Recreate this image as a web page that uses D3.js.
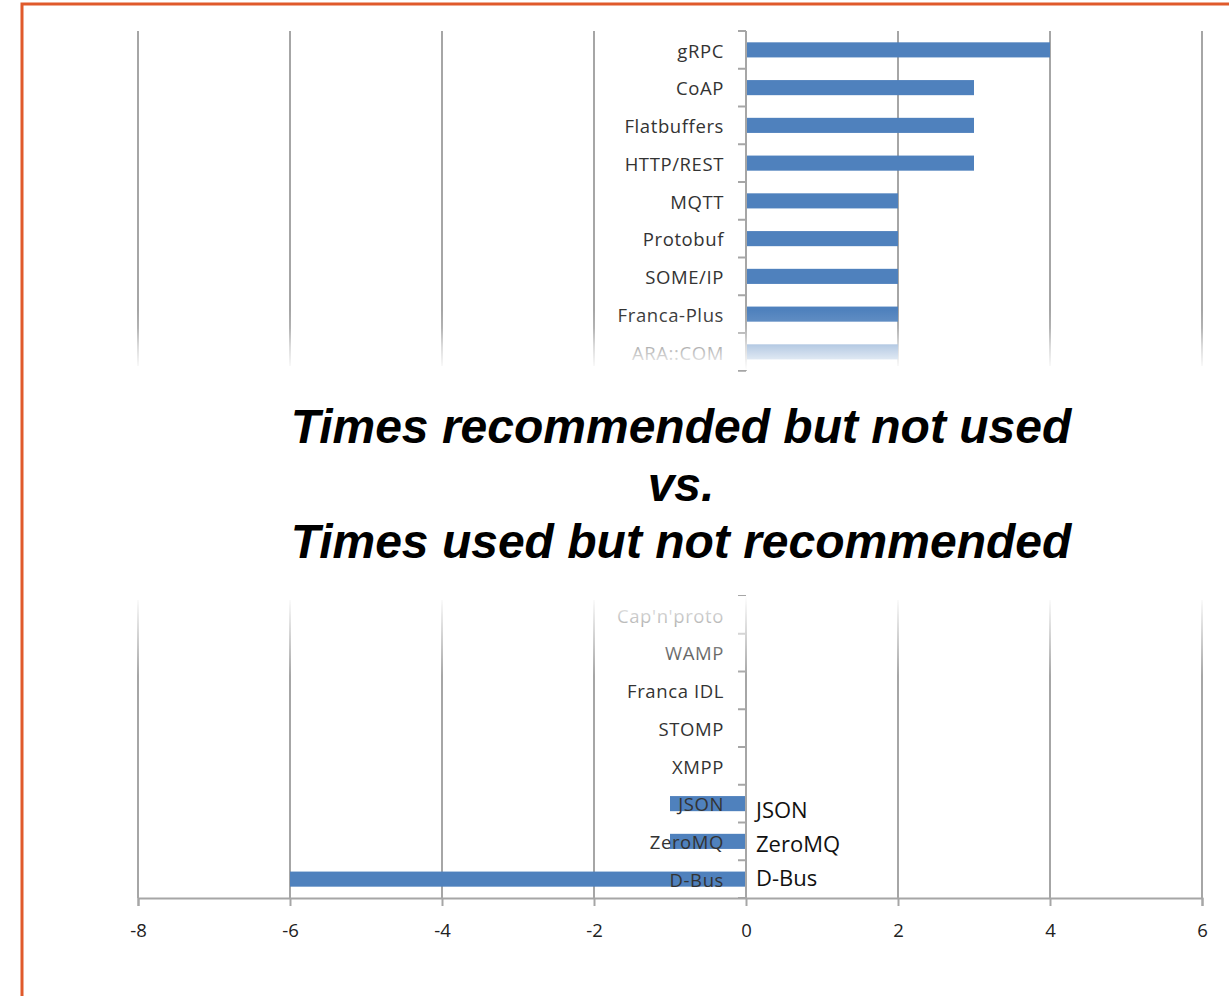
<!DOCTYPE html>
<meta charset="utf-8">
<style>
body { margin: 0; background: #fff; }
text { font-family: "Open Sans", "Noto Sans", sans-serif; }
.cat { font-size: 18.5px; fill: #333; letter-spacing: 0.6px; }
.tick text { font-size: 18.5px; fill: #222; }
.title { font-family: "Liberation Sans", Arial, sans-serif; font-weight: bold; font-style: italic; font-size: 48px; fill: #000; }
.note { font-size: 22px; fill: #111; }
</style>
<body>
<script src="https://cdnjs.cloudflare.com/ajax/libs/d3/7.8.5/d3.min.js"></script>
<script>

// top half: times recommended but not used
var topCats = ["gRPC", "CoAP", "Flatbuffers", "HTTP/REST", "MQTT", "Protobuf", "SOME/IP", "Franca-Plus", "ARA::COM"];
var topVals = [4, 3, 3, 3, 2, 2, 2, 2, 2];
// bottom half: times used but not recommended
var botCats = ["Cap'n'proto", "WAMP", "Franca IDL", "STOMP", "XMPP", "JSON", "ZeroMQ", "D-Bus"];
var botVals = [0, 0, 0, 0, 0, -1, -1, -6];
var notes = ["JSON", "ZeroMQ", "D-Bus"];
var xTicks = [-8, -6, -4, -2, 0, 2, 4, 6];
var titleLines = ["Times recommended but not used", "vs.", "Times used but not recommended"];

var width = 1229, height = 996;
var pitch = 37.75;

var svg = d3.select("body").append("svg")
    .attr("width", width)
    .attr("height", height);

var defs = svg.append("defs");
var gDown = defs.append("linearGradient").attr("id", "fadeDown")
    .attr("x1", 0).attr("y1", 0).attr("x2", 0).attr("y2", 1);
[[0, 0], [0.3, 0.15], [0.6, 0.6], [1, 1]].forEach(function(s) {
  gDown.append("stop").attr("offset", s[0]).attr("stop-color", "#fff").attr("stop-opacity", s[1]);
});
var gUp = defs.append("linearGradient").attr("id", "fadeUp")
    .attr("x1", 0).attr("y1", 0).attr("x2", 0).attr("y2", 1);
gUp.append("stop").attr("offset", "0%").attr("stop-color", "#fff").attr("stop-opacity", 1);
gUp.append("stop").attr("offset", "100%").attr("stop-color", "#fff").attr("stop-opacity", 0);

var x = d3.scaleLinear().domain([-8, 6]).range([138, 1202]);

var yTop = d3.scaleBand().domain(topCats)
    .range([31, 31 + pitch * topCats.length]).paddingInner(0.6).paddingOuter(0.3);
var yBot = d3.scaleBand().domain(botCats)
    .range([898 - pitch * botCats.length, 898]).paddingInner(0.6).paddingOuter(0.3);

function panel(y, cats, vals, y0, y1) {
  var g = svg.append("g");
  // vertical grid
  g.selectAll(".grid").data(xTicks).enter().append("line")
      .attr("x1", function(d) { return x(d); })
      .attr("x2", function(d) { return x(d); })
      .attr("y1", y0).attr("y2", y1)
      .attr("stroke", "#a6a6a6").attr("stroke-width", 2);
  // bars
  g.selectAll(".bar").data(cats).enter().append("rect")
      .attr("x", function(d, i) { return x(Math.min(0, vals[i])); })
      .attr("width", function(d, i) { return Math.abs(x(vals[i]) - x(0)); })
      .attr("y", function(d) { return y(d); })
      .attr("height", y.bandwidth())
      .attr("fill", "#4f81bd");
  // category axis
  var r = y.range();
  g.append("line").attr("x1", x(0)).attr("x2", x(0)).attr("y1", r[0]).attr("y2", r[1])
      .attr("stroke", "#a6a6a6").attr("stroke-width", 2);
  d3.range(cats.length + 1).forEach(function(i) {
    g.append("line").attr("x1", x(0) - 8).attr("x2", x(0))
        .attr("y1", r[0] + i * pitch).attr("y2", r[0] + i * pitch)
        .attr("stroke", "#a6a6a6").attr("stroke-width", 2);
  });
  g.selectAll(".cat").data(cats).enter().append("text")
      .attr("class", "cat")
      .attr("x", x(0) - 22)
      .attr("y", function(d) { return y(d) + y.bandwidth() / 2 + 1; })
      .attr("dy", "0.36em")
      .attr("text-anchor", "end")
      .text(function(d) { return d; });
  return g;
}

panel(yTop, topCats, topVals, 31, 366);
var bot = panel(yBot, botCats, botVals, 600, 898);

// bottom value axis
var axis = svg.append("g")
    .attr("transform", "translate(0,898)")
    .call(d3.axisBottom(x).tickValues(xTicks).tickSize(8).tickPadding(18).tickFormat(d3.format("d")));
axis.select(".domain").attr("stroke", "#a6a6a6").attr("stroke-width", 2);
axis.selectAll(".tick line").attr("stroke", "#a6a6a6").attr("stroke-width", 2);
axis.selectAll(".tick text").text(function(d) { return String(d); });

// fades round the title
svg.append("rect").attr("x", 100).attr("y", 310).attr("width", 1129).attr("height", 60)
    .attr("fill", "url(#fadeDown)");
svg.append("rect").attr("x", 100).attr("y", 596).attr("width", 1129).attr("height", 80)
    .attr("fill", "url(#fadeUp)");

// side notes next to negative bars
var mid = yBot("ZeroMQ") + yBot.bandwidth() / 2;
svg.selectAll(".note").data(notes).enter().append("text")
    .attr("class", "note")
    .attr("x", x(0) + 10)
    .attr("y", function(d, i) { return mid + 3 + (i - 1) * 34; })
    .attr("dy", "0.36em")
    .text(function(d) { return d; });

// title
svg.selectAll(".title").data(titleLines).enter().append("text")
    .attr("class", "title")
    .attr("x", 681)
    .attr("y", function(d, i) { return 443 + i * 57.5; })
    .attr("text-anchor", "middle")
    .text(function(d) { return d; });

// orange frame
svg.append("path")
    .attr("d", "M22," + height + "V4H" + width)
    .attr("fill", "none")
    .attr("stroke", "#e05a2b")
    .attr("stroke-width", 3);

</script>
